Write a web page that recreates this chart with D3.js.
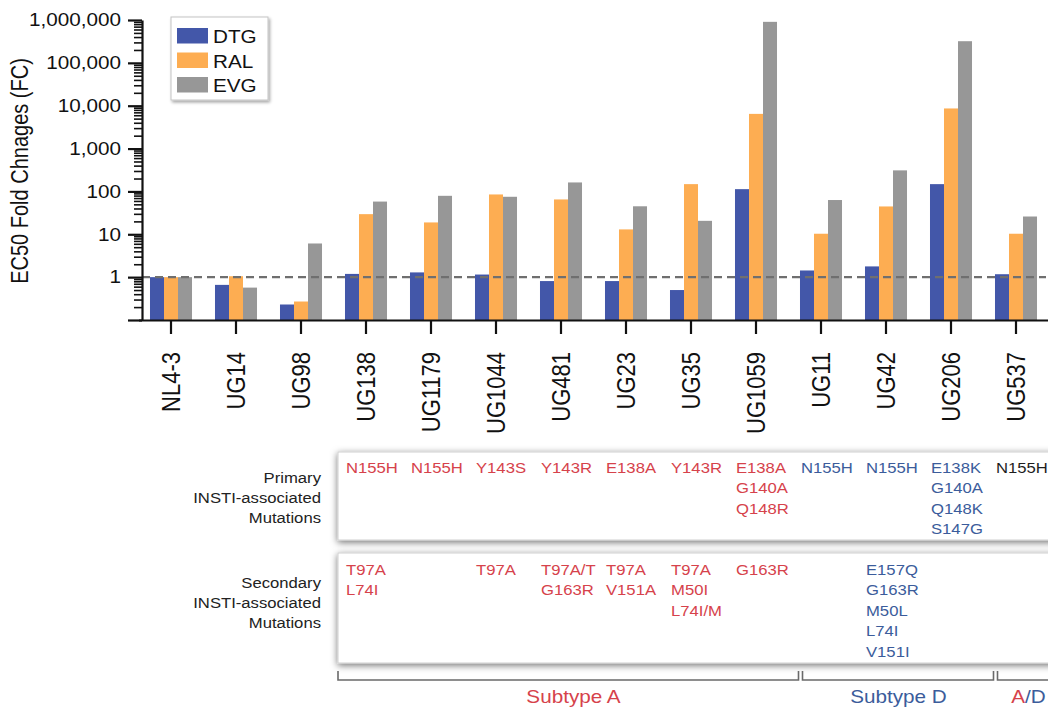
<!DOCTYPE html>
<html>
<head>
<meta charset="utf-8">
<script src="https://cdn.jsdelivr.net/npm/d3@7"></script>
<style>
  body { margin: 0; background: #fff; }
  svg { display: block; font-family: "Liberation Sans", Arial, Helvetica, sans-serif; }
</style>
</head>
<body>
<svg id="chart" width="1048" height="711"></svg>
<script>
// ---- data -------------------------------------------------------------
const isolates = ["NL4-3","UG14","UG98","UG138","UG1179","UG1044","UG481","UG23","UG35","UG1059","UG11","UG42","UG206","UG537"];
const drugs = ["DTG","RAL","EVG"];
const dtgFC = [1.0, 0.66, 0.23, 1.19, 1.29, 1.15, 0.81, 0.81, 0.50, 113, 1.43, 1.78, 148, 1.17];
const ralFC = [1.0, 1.05, 0.27, 29.5, 18.9, 85, 65, 13, 148, 6450, 10.3, 44.6, 8630, 10.3];
const evgFC = [1.0, 0.57, 6.1, 58, 79, 75, 162, 45, 20.6, 906000, 63, 310, 320000, 26];
const yMajorTicks = [0.1, 1, 10, 100, 1000, 10000, 100000, 1000000];
const yTitle = "EC50 Fold Chnages (FC)";

// mutation table (one column per clinical isolate, UG138 .. UG537)
const tableIsolates = ["UG138","UG1179","UG1044","UG481","UG23","UG35","UG1059","UG11","UG42","UG206","UG537"];
const isolateSubtype = ["A","A","A","A","A","A","A","D","D","D","A/D"];
const primaryMutations = [
  ["N155H"], ["N155H"], ["Y143S"], ["Y143R"], ["E138A"], ["Y143R"],
  ["E138A","G140A","Q148R"], ["N155H"], ["N155H"],
  ["E138K","G140A","Q148K","S147G"], ["N155H"]
];
const secondaryMutations = [
  ["T97A","L74I"], [], ["T97A"], ["T97A/T","G163R"], ["T97A","V151A"],
  ["T97A","M50I","L74I/M"], ["G163R"], [],
  ["E157Q","G163R","M50L","L74I","V151I"], [], []
];
const rowLabels = [["Primary","INSTI-associated","Mutations"], ["Secondary","INSTI-associated","Mutations"]];
const subtypeGroups = [
  { label: "Subtype A", first: "UG138", last: "UG1059" },
  { label: "Subtype D", first: "UG11",  last: "UG206" },
  { label: "A/D",       first: "UG537", last: "UG537" }
];

// ---- styles -----------------------------------------------------------
const drugColors = { DTG: "#4357a9", RAL: "#fdad52", EVG: "#979797" };
const subtypeColors = { "A": "#d6424b", "D": "#3b5c9b", "A/D": "#1e1e1e" };
const SX = 1.15;   // horizontal text stretch

const svg = d3.select("#chart");
const defs = svg.append("defs");
defs.append("filter").attr("id", "boxShadow")
  .attr("x", "-10%").attr("y", "-30%").attr("width", "120%").attr("height", "160%")
  .append("feDropShadow")
  .attr("dx", 0).attr("dy", 2).attr("stdDeviation", 3.6)
  .attr("flood-color", "#000").attr("flood-opacity", 0.55);
defs.append("filter").attr("id", "legendShadow")
  .attr("x", "-10%").attr("y", "-10%").attr("width", "130%").attr("height", "130%")
  .append("feDropShadow")
  .attr("dx", 1.5).attr("dy", 2).attr("stdDeviation", 1.8)
  .attr("flood-color", "#000").attr("flood-opacity", 0.35);

// stretch a text horizontally about its own anchor point (optionally rotated)
function stretch(sel) {
  sel.each(function () {
    const t = d3.select(this);
    const x = +t.attr("x") || 0, y = +t.attr("y") || 0;
    const rot = t.attr("data-rot");
    t.attr("transform",
      `translate(${x},${y}) scale(${SX},1)${rot ? ` rotate(${rot})` : ""} translate(${-x},${-y})`);
  });
}

// ---- scales -----------------------------------------------------------
const x = d3.scaleBand().domain(isolates).range([138.5, 1048.5]);
const xs = d3.scaleBand().domain(drugs).range([0, x.bandwidth()]).paddingInner(0).paddingOuter(0.82);
const y = d3.scaleLog().domain([0.1, 1000000]).range([320, 20]);
const axisX = 142;

const rows = isolates.map((iso, i) => ({ iso, DTG: dtgFC[i], RAL: ralFC[i], EVG: evgFC[i] }));

// ---- bars -------------------------------------------------------------
const groups = svg.append("g").selectAll("g").data(rows).join("g")
  .attr("transform", d => `translate(${x(d.iso)},0)`);
groups.selectAll("rect")
  .data(d => drugs.map(k => ({ k, v: d[k] })))
  .join("rect")
  .attr("x", d => xs(d.k))
  .attr("width", xs.bandwidth())
  .attr("y", d => y(d.v))
  .attr("height", d => y(0.1) - y(d.v))
  .attr("fill", d => drugColors[d.k]);

// reference line at FC = 1
svg.append("line")
  .attr("x1", axisX).attr("x2", 1046)
  .attr("y1", y(1)).attr("y2", y(1))
  .attr("stroke", "#6f6f6f").attr("stroke-width", 2.2)
  .attr("stroke-dasharray", "8,5");

// ---- y axis -----------------------------------------------------------
const isMajor = v => yMajorTicks.some(m => Math.abs(Math.log10(v) - Math.log10(m)) < 1e-9);
const fmt = d3.format(",");
const yAxis = svg.append("g")
  .attr("transform", `translate(${axisX},0)`)
  .call(d3.axisLeft(y).tickValues(y.ticks()).tickSize(13).tickSizeOuter(0)
    .tickFormat(v => (isMajor(v) && v >= 1) ? fmt(Math.round(v)) : ""))
  .attr("font-family", null).attr("font-size", null);
yAxis.select(".domain").attr("stroke", "#111").attr("stroke-width", 2.2);
yAxis.selectAll(".tick line")
  .attr("stroke", "#111")
  .attr("stroke-width", v => isMajor(v) ? 2.2 : 1.6)
  .attr("x2", v => isMajor(v) ? -14 : -8);
yAxis.selectAll(".tick text")
  .attr("x", -21).attr("fill", "#111")
  .attr("font-size", 18)
  .call(stretch);

svg.append("text")
  .attr("x", 20).attr("y", 171)
  .attr("data-rot", -90)
  .attr("dy", "0.35em")
  .attr("text-anchor", "middle")
  .attr("font-size", 20).attr("fill", "#111")
  .text(yTitle)
  .call(stretch);

// ---- x axis -----------------------------------------------------------
const xAxis = svg.append("g")
  .attr("transform", `translate(0,${y(0.1)})`)
  .call(d3.axisBottom(x).tickSize(14).tickSizeOuter(0))
  .attr("font-family", null).attr("font-size", null);
xAxis.select(".domain").attr("stroke", "#111").attr("stroke-width", 2.2);
xAxis.selectAll(".tick line").attr("stroke", "#111").attr("stroke-width", 2.2);
xAxis.selectAll(".tick text")
  .attr("x", 0).attr("y", 32).attr("dy", "0.35em")
  .attr("data-rot", -90)
  .attr("text-anchor", "end")
  .attr("font-size", 22).attr("fill", "#111")
  .call(stretch);

// ---- legend -----------------------------------------------------------
const legend = svg.append("g").attr("transform", "translate(171,17)");
legend.append("rect")
  .attr("width", 97).attr("height", 83)
  .attr("fill", "#fff").attr("stroke", "#c4c4c4").attr("stroke-width", 1)
  .attr("filter", "url(#legendShadow)");
const li = legend.selectAll("g.item").data(drugs).join("g").attr("class", "item")
  .attr("transform", (d, i) => `translate(0,${11 + i * 24.5})`);
li.append("rect").attr("x", 6).attr("width", 31).attr("height", 15.5)
  .attr("fill", d => drugColors[d]);
li.append("text").attr("x", 42).attr("y", 15)
  .attr("font-size", 18).attr("fill", "#111")
  .text(d => d)
  .call(stretch);

// ---- mutation table ---------------------------------------------------
const colStart = iso => x(iso) + 12.5;
const tableLeft = x(tableIsolates[0]) + 4.5;
const boxes = [
  { top: 452, bottom: 540, data: primaryMutations, firstBaseline: 473, labels: rowLabels[0], labelBaseline: 483 },
  { top: 553, bottom: 663, data: secondaryMutations, firstBaseline: 575, labels: rowLabels[1], labelBaseline: 588 }
];
const lineStep = 20.5;

boxes.forEach(b => {
  svg.append("rect")
    .attr("x", tableLeft).attr("y", b.top)
    .attr("width", 1070 - tableLeft).attr("height", b.bottom - b.top)
    .attr("fill", "#fff").attr("stroke", "#cfcfcf").attr("stroke-width", 1)
    .attr("filter", "url(#boxShadow)");

  svg.append("g").selectAll("text").data(b.labels).join("text")
    .attr("x", 321).attr("y", (d, i) => b.labelBaseline + i * 20)
    .attr("text-anchor", "end")
    .attr("font-size", 14.5).attr("fill", "#222")
    .text(d => d)
    .call(stretch);

  tableIsolates.forEach((iso, ci) => {
    svg.append("g").selectAll("text").data(b.data[ci]).join("text")
      .attr("x", colStart(iso))
      .attr("y", (d, i) => b.firstBaseline + i * lineStep)
      .attr("font-size", 14.5)
      .attr("fill", subtypeColors[isolateSubtype[ci]])
      .text(d => d)
      .call(stretch);
  });
});

// ---- subtype brackets -------------------------------------------------
const bracketTop = 671, bracketY = 680;
subtypeGroups.forEach((g, gi) => {
  const startCol = colStart(g.first);
  const endCol = colStart(g.last) + x.step();
  const x1 = gi === 0 ? tableLeft : startCol + 1.5;
  const x2 = endCol - 2.5;
  svg.append("path")
    .attr("d", `M${x1},${bracketTop}V${bracketY}H${x2}V${bracketTop}`)
    .attr("fill", "none").attr("stroke", "#6a6a6a").attr("stroke-width", 1.6);

  const t = svg.append("text")
    .attr("x", (startCol + endCol) / 2).attr("y", 703)
    .attr("text-anchor", "middle")
    .attr("font-size", 18);
  if (g.label === "A/D") {
    t.append("tspan").attr("fill", subtypeColors["A"]).text("A");
    t.append("tspan").attr("fill", subtypeColors["D"]).text("/D");
  } else {
    t.attr("fill", g.label.endsWith("A") ? subtypeColors["A"] : subtypeColors["D"]).text(g.label);
  }
  t.call(stretch);
});
</script>
</body>
</html>
